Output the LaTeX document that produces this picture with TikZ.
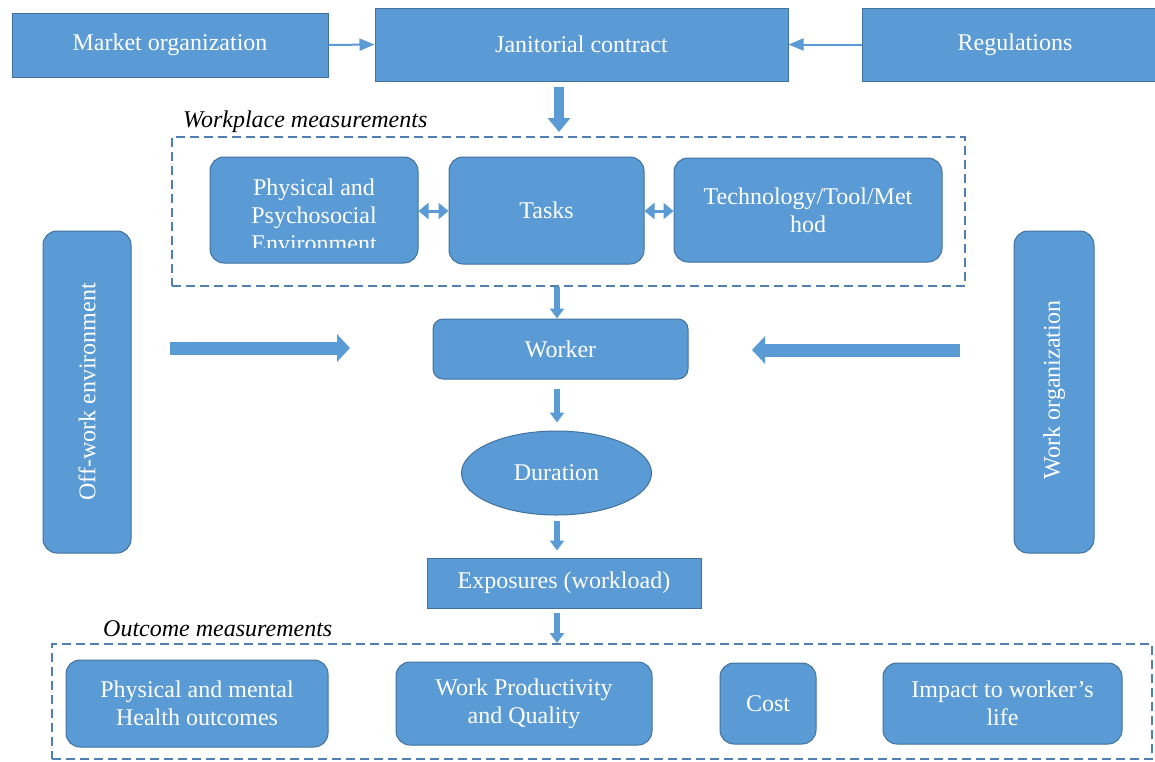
\documentclass[tikz,border=0pt]{standalone}
\usepackage{fontspec}
\setmainfont{Liberation Serif}
\usetikzlibrary{arrows.meta,shapes.geometric,calc}
\definecolor{boxfill}{HTML}{5B9BD5}
\definecolor{boxline}{HTML}{41719C}
\definecolor{dashcol}{RGB}{82,127,178}
\begin{document}
\begin{tikzpicture}[x=1pt,y=-1pt,
  box/.style={draw=boxline,line width=1pt,fill=boxfill,text=white,
    font=\fontsize{24}{28}\selectfont,align=center,inner sep=0pt},
  rbox/.style={box,rounded corners=14pt},
  groupbox/.style={draw=dashcol,line width=2pt,dash pattern=on 9pt off 5pt},
  grouplabel/.style={font=\fontsize{24}{28}\selectfont\itshape,text=black,anchor=west,inner sep=0pt},
  thinarrow/.style={draw=boxfill,line width=2pt,-{Triangle[width=12pt,length=15pt]}},
  bigarrow/.style={draw=boxfill,line width=10pt,-{Triangle[width=22pt,length=14pt]}},
  midarrow/.style={draw=boxfill,line width=6pt,-{Triangle[width=14pt,length=10pt]}},
  sidearrow/.style={draw=boxfill,line width=13pt,-{Triangle[width=27pt,length=13pt]}},
  dblarrow/.style={draw=boxfill,line width=3pt,{Triangle[width=16pt,length=10pt]}-{Triangle[width=16pt,length=10pt]}}
]
\clip (0,0) rectangle (1155,761);
\fill[white] (0,0) rectangle (1155,761);

% top row
\node[box,minimum width=316pt,minimum height=64pt] (mo) at (170,45) {Market organization};
\node[box,minimum width=413pt,minimum height=73pt] (jc) at (581.5,44.5) {Janitorial contract};
\node[box,minimum width=306pt,minimum height=73pt] (reg) at (1015,44.5) {Regulations};
\draw[thinarrow] (mo.east) -- (jc.west);
\draw[thinarrow] (reg.west) -- (jc.east);

% workplace measurements
\node[groupbox,minimum width=793pt,minimum height=149pt,inner sep=0pt] (wp) at (568.5,211.5) {};
\node[grouplabel] (wpl) at (183,122) {Workplace measurements};
\coordinate (spine) at (557,0);
\coordinate (spinetop) at (559,0);
\draw[bigarrow] ($(jc.south -| spinetop)+(0,5)$) -- ($(wp.north -| spinetop)+(0,-4)$);

\node[rbox,minimum width=208pt,minimum height=106pt] (pe) at (314,210) {};
\begin{scope}
  \clip (pe.north west) rectangle ($(pe.south east)+(0,-16)$);
  \node[box,draw=none,fill=none] (pet) at (314,215) {Physical and\\Psychosocial\\Environment};
\end{scope}
\node[rbox,minimum width=195pt,minimum height=107pt] (tasks) at (546.5,210.5) {Tasks};
\node[rbox,minimum width=268pt,minimum height=104pt] (tech) at (808,210) {Technology/Tool/Met\\hod};
\draw[dblarrow] (pe.east |- 0,211) -- (tasks.west |- 0,211);
\draw[dblarrow] (tasks.east |- 0,211) -- (tech.west |- 0,211);

% side boxes
\node[rbox,minimum width=88pt,minimum height=322pt] (ow) at (87,392) {};
\node[box,draw=none,fill=none,rotate=90] (owt) at (87,392) {Off-work environment};
\node[rbox,minimum width=80pt,minimum height=322pt] (wo) at (1054,392) {};
\node[box,draw=none,fill=none,rotate=90] (wot) at (1054,390) {Work organization};

% worker chain
\node[rbox,rounded corners=10pt,minimum width=255pt,minimum height=60pt] (worker) at (560.5,349) {Worker};
\draw[midarrow] (wp.south -| spine) -- (worker.north -| spine);

\coordinate (lstart) at (170,348);
\coordinate (lend) at (350,348);
\coordinate (rstart) at (960,350);
\coordinate (rend) at (752,350);
\draw[sidearrow] (lstart) -- (lend);
\draw[sidearrow] (rstart) -- (rend);

\node[box,ellipse,minimum width=190pt,minimum height=84pt] (dur) at (556.5,473) {Duration};
\draw[midarrow] ($(worker.south -| spine)+(0,9)$) -- ($(dur.north -| spine)+(0,-8)$);

\node[box,minimum width=274pt,minimum height=50pt] (exp) at (564,583) {Exposures (workload)};
\draw[midarrow] ($(dur.south -| spine)+(0,5)$) -- ($(exp.north -| spine)+(0,-7)$);

% outcome measurements
\node[groupbox,minimum width=1100pt,minimum height=115pt,inner sep=0pt] (om) at (602,701.5) {};
\node[grouplabel] (oml) at (103,629) {Outcome measurements};
\draw[midarrow] ($(exp.south -| spine)+(0,4)$) -- (om.north -| spine);

\node[rbox,minimum width=262pt,minimum height=87pt] (o1) at (197,703.5) {Physical and mental\\Health outcomes};
\node[rbox,minimum width=256pt,minimum height=83pt] (o2) at (524,703.5) {Work Productivity\\and Quality};
\node[rbox,minimum width=96pt,minimum height=81pt] (o3) at (768,703.5) {Cost};
\node[rbox,minimum width=239pt,minimum height=81pt] (o4) at (1002.5,703.5) {Impact to worker’s\\life};
\end{tikzpicture}
\end{document}
